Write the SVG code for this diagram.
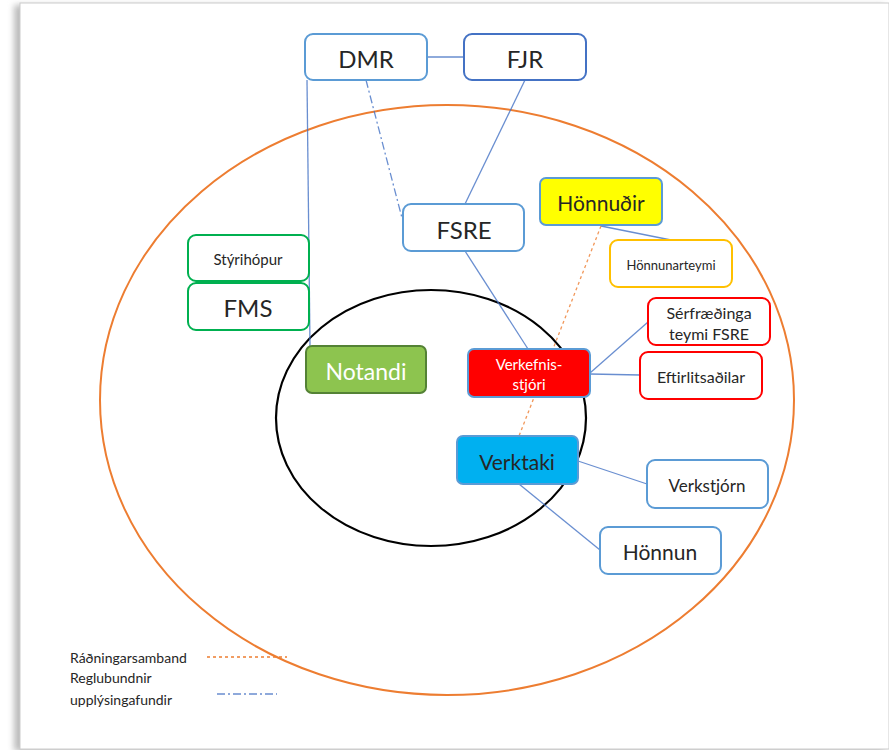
<svg xmlns="http://www.w3.org/2000/svg" width="889" height="750" viewBox="0 0 889 750">
<defs>
<filter id="sh" x="-5%" y="-5%" width="110%" height="110%"><feGaussianBlur stdDeviation="3"/></filter>
<style>
text{font-family:Lato,"Open Sans","Liberation Sans",sans-serif;fill:#262626;text-anchor:middle;dominant-baseline:central}
.box{fill:#fff;stroke-width:2}
.bl{stroke:#5B9BD5}
.gr{stroke:#00B050}
.rd{stroke:#FF0000}
.yl{stroke:#FFC000}
.conn line,.conn path{stroke:#4472C4;stroke-width:1.3;fill:none;opacity:.8}
.orange{stroke:#ED7D31 !important;stroke-dasharray:3 3}
.dd{stroke-dasharray:8 3 2 3}
.leg{text-anchor:start;font-size:14px}
</style>
</defs>
<rect x="14" y="5" width="870" height="746" fill="#bbb" filter="url(#sh)"/>
<rect x="20" y="3" width="869" height="746" fill="#fff" stroke="#ccc" stroke-width="1"/>
<ellipse cx="447" cy="400" rx="347" ry="295" fill="none" stroke="#ED7D31" stroke-width="2"/>
<ellipse cx="431" cy="418" rx="155" ry="128" fill="none" stroke="#000" stroke-width="2.2"/>
<g class="conn">
<line x1="427" y1="57" x2="464" y2="57"/>
<line x1="307" y1="80" x2="310" y2="346"/>
<line class="dd" x1="366" y1="80" x2="402" y2="218"/>
<line x1="525" y1="80" x2="465" y2="204"/>
<line x1="465" y1="251" x2="528" y2="349"/>
<line x1="601" y1="226" x2="671" y2="240"/>
<line class="orange" x1="601" y1="226" x2="519" y2="436"/>
<line x1="590" y1="373" x2="648" y2="322"/>
<line x1="590" y1="374" x2="640" y2="375"/>
<line x1="578" y1="461" x2="647" y2="484"/>
<line x1="519" y1="484" x2="600" y2="550"/>
</g>
<g id="DMR"><rect class="box bl" x="305" y="34" width="122" height="46" rx="8"/><text x="366" y="58" font-size="24">DMR</text></g>
<g id="FJR"><rect class="box" stroke="#4472C4" x="464" y="34" width="122" height="46" rx="8"/><text x="525" y="58" font-size="24">FJR</text></g>
<g id="FSRE"><rect class="box bl" x="403" y="204" width="121" height="47" rx="8"/><text x="464" y="229" font-size="24">FSRE</text></g>
<g id="Styrihopur"><rect class="box gr" x="188" y="235" width="121" height="46" rx="8"/><text x="248" y="259" font-size="15">Stýrihópur</text></g>
<g id="FMS"><rect class="box gr" x="188" y="283" width="121" height="47" rx="8"/><text x="248" y="307" font-size="24">FMS</text></g>
<g id="Notandi"><rect x="306" y="346" width="120" height="47" rx="6" fill="#8DC44F" stroke="#548235" stroke-width="2"/><text x="366" y="371" font-size="23" style="fill:#fff">Notandi</text></g>
<g id="Verkefnisstjori"><rect x="468" y="349" width="122" height="48" rx="6" fill="#FF0000" stroke="#5B9BD5" stroke-width="2"/><text x="529" y="364" font-size="15" style="fill:#fff">Verkefnis-</text><text x="529" y="384" font-size="15" style="fill:#fff">stjóri</text></g>
<g id="Honnudir"><rect x="540" y="178" width="122" height="47" rx="6" fill="#FFFF00" stroke="#5B9BD5" stroke-width="2"/><text x="601" y="202" font-size="21">Hönnuðir</text></g>
<g id="Honnunarteymi"><rect class="box yl" x="610" y="240" width="122" height="47" rx="8"/><text x="671" y="265" font-size="13">Hönnunarteymi</text></g>
<g id="Serfraedinga"><rect class="box rd" x="648" y="298" width="122" height="47" rx="8"/><text x="709" y="312" font-size="16">Sérfræðinga</text><text x="709" y="333" font-size="16">teymi FSRE</text></g>
<g id="Eftirlitsadilar"><rect class="box rd" x="640" y="352" width="122" height="47" rx="8"/><text x="701" y="376" font-size="16">Eftirlitsaðilar</text></g>
<g id="Verktaki"><rect x="457" y="436" width="121" height="48" rx="6" fill="#00B0F0" stroke="#5B9BD5" stroke-width="2"/><text x="517" y="461" font-size="21">Verktaki</text></g>
<g id="Verkstjorn"><rect class="box bl" x="647" y="460" width="121" height="48" rx="8"/><text x="707" y="485" font-size="17">Verkstjórn</text></g>
<g id="Honnun"><rect class="box bl" x="600" y="527" width="121" height="47" rx="8"/><text x="660" y="551" font-size="21">Hönnun</text></g>
<g id="legend">
<text class="leg" x="70" y="657">Ráðningarsamband</text>
<text class="leg" x="70" y="677">Reglubundnir</text>
<text class="leg" x="70" y="699">upplýsingafundir</text>
<line x1="207" y1="657" x2="287" y2="657" stroke="#ED7D31" stroke-width="1.3" stroke-dasharray="3 3"/>
<line x1="217" y1="694" x2="277" y2="694" stroke="#4472C4" stroke-width="1.3" stroke-dasharray="8 3 2 3" opacity=".8"/>
</g>
</svg>
